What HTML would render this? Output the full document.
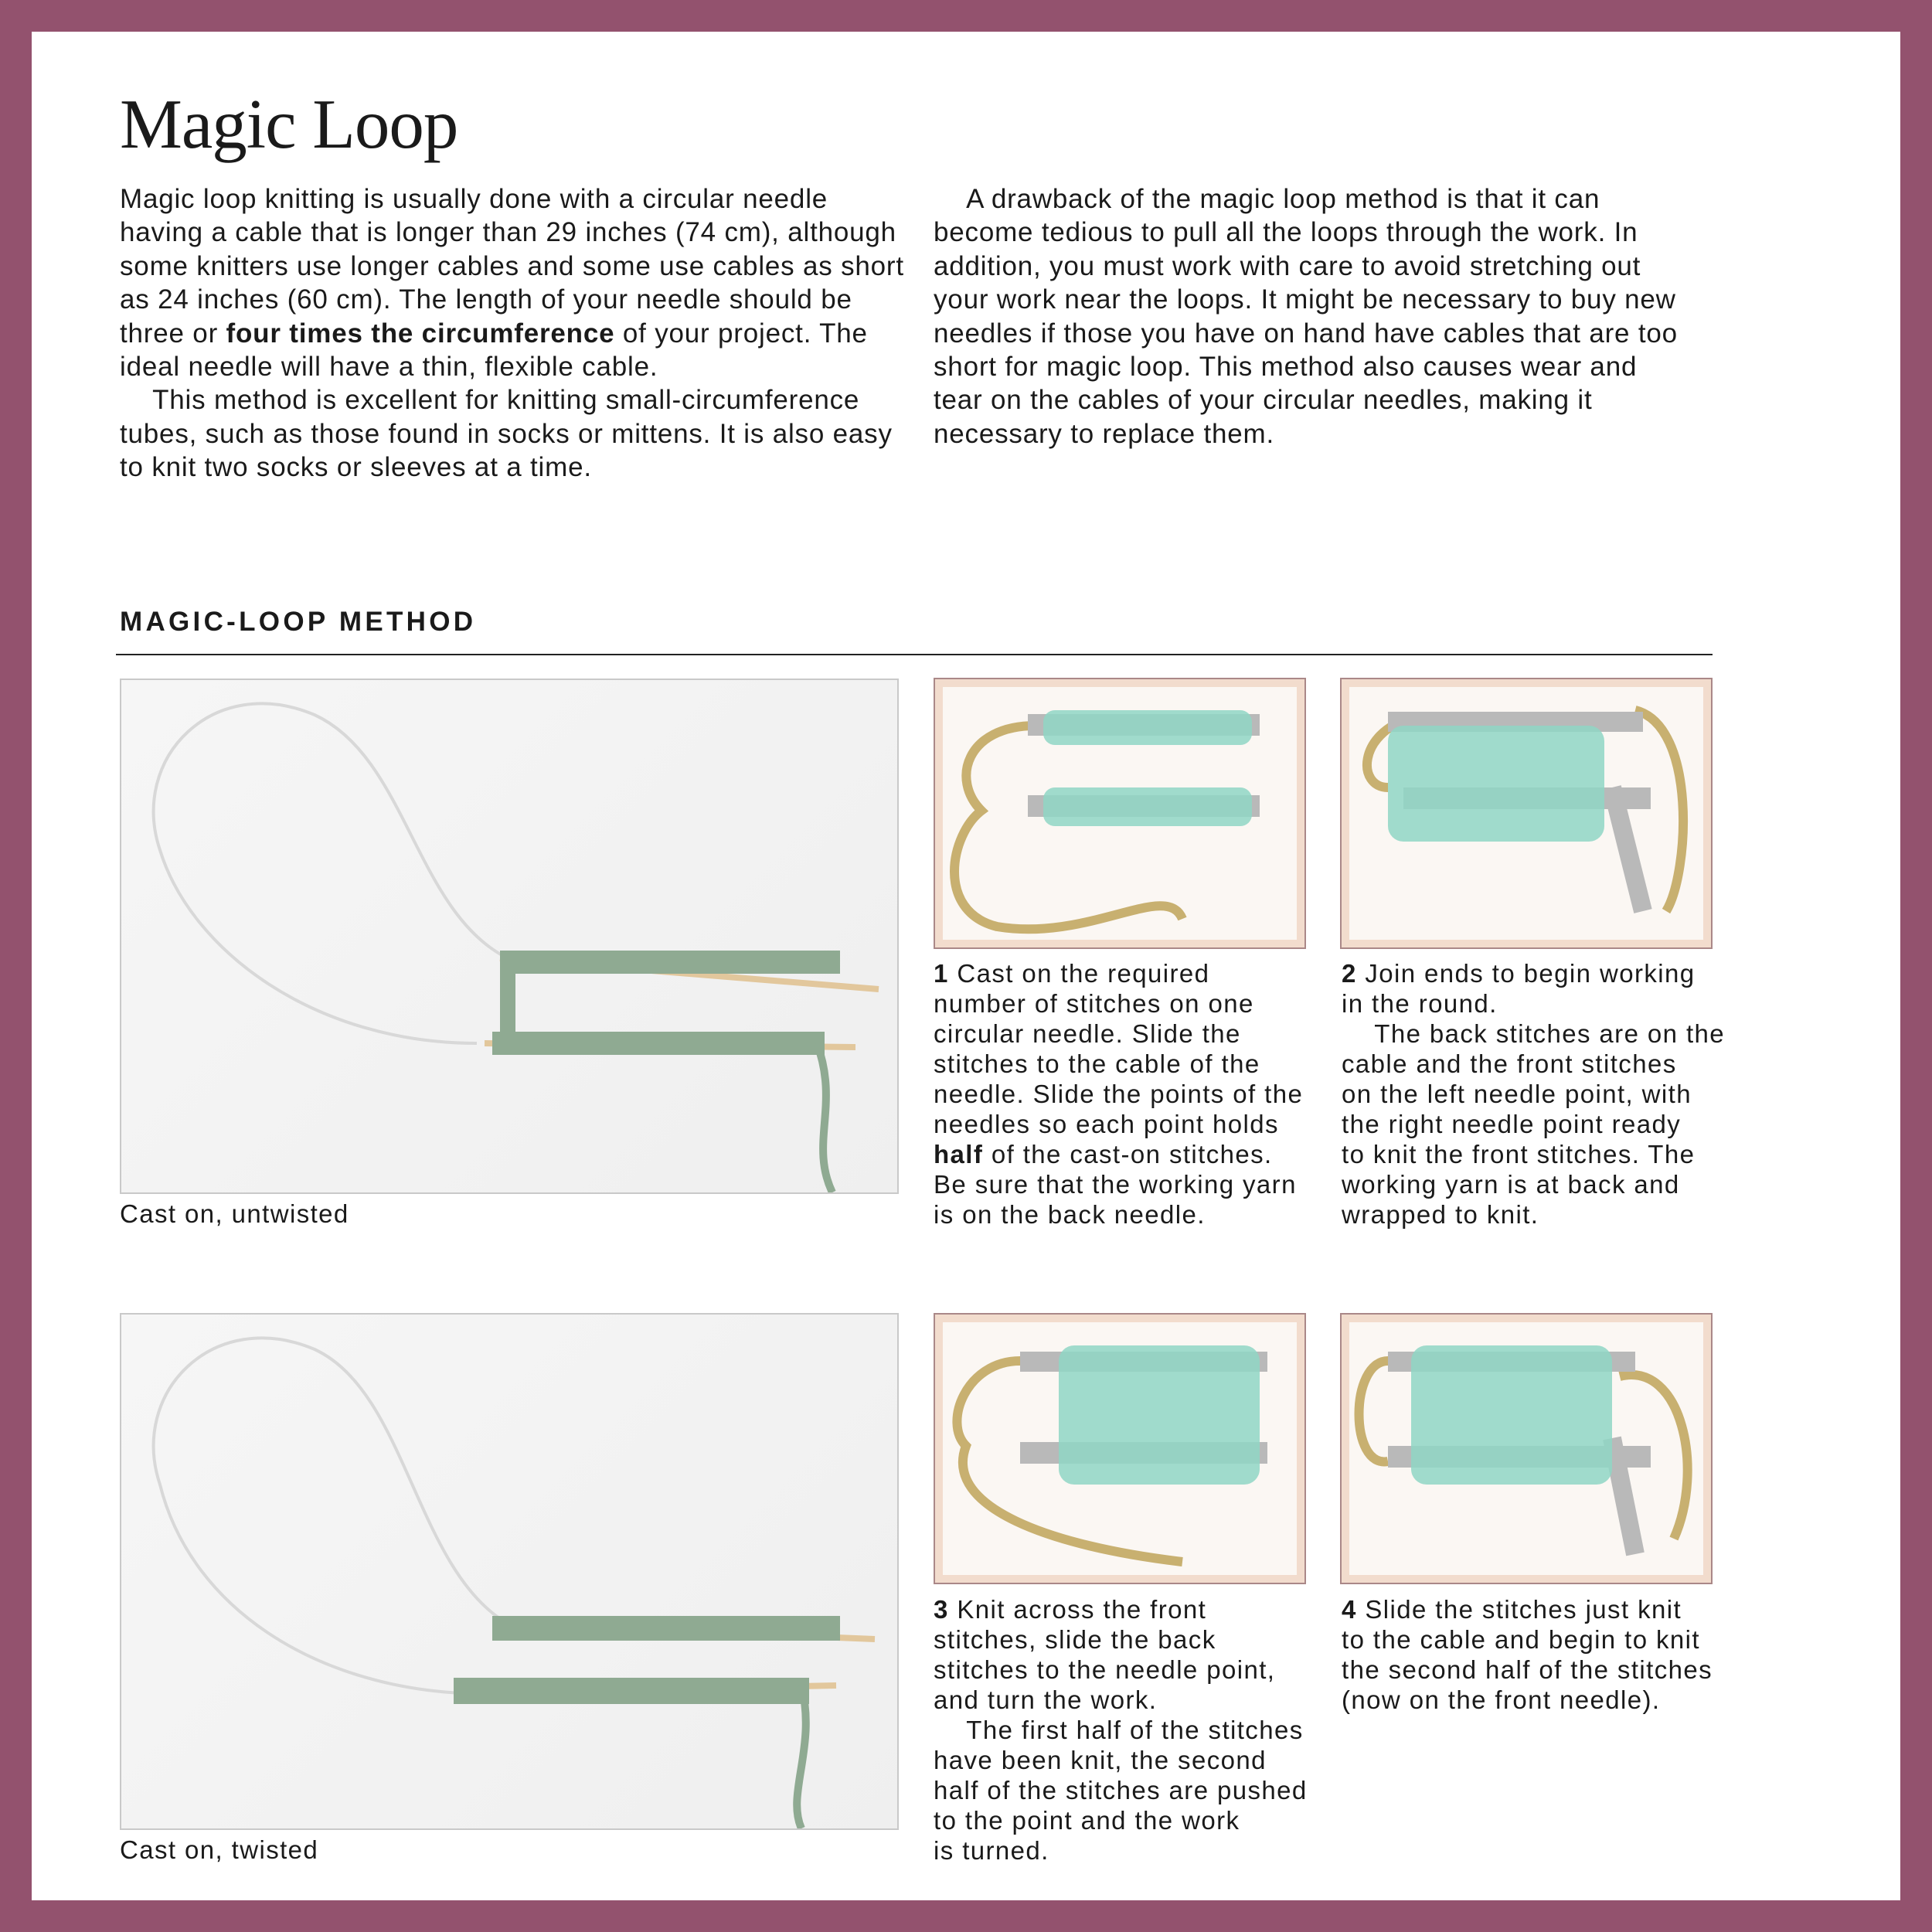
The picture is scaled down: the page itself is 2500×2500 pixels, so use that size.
<!DOCTYPE html>
<html><head><meta charset="utf-8">
<style>
html,body{margin:0;padding:0}
body{width:2500px;height:2500px;background:#93526e;position:relative;overflow:hidden;font-family:"Liberation Sans",sans-serif;color:#1a1a1a}
.page{position:absolute;left:41px;top:41px;width:2418px;height:2418px;background:#fff}
.a{position:absolute}
.body{font-size:35px;line-height:43.4px;white-space:nowrap;letter-spacing:0.8px}
.step{font-size:33px;line-height:39px;white-space:nowrap;letter-spacing:1.4px}
.cap{font-size:33px;white-space:nowrap;letter-spacing:1.4px}
h1{position:absolute;left:155px;top:108px;margin:0;font-family:"Liberation Serif",serif;font-weight:normal;font-size:91px;letter-spacing:-1px}
.photo{position:absolute;border:2px solid #c9c9c9;background:linear-gradient(135deg,#f6f6f6,#efefef)}
.ill{position:absolute;border:2px solid #a88;background:#f2dccd}
.ill .in{position:absolute;left:10px;top:10px;right:10px;bottom:10px;background:#fbf7f3}
</style></head><body>
<div class="page"></div>
<h1>Magic Loop</h1>
<div class="a body" style="left:155px;top:236px">Magic loop knitting is usually done with a circular needle<br>having a cable that is longer than 29 inches (74 cm), although<br>some knitters use longer cables and some use cables as short<br>as 24 inches (60 cm). The length of your needle should be<br>three or <b>four times the circumference</b> of your project. The<br>ideal needle will have a thin, flexible cable.<br>&nbsp;&nbsp;&nbsp;&nbsp;This method is excellent for knitting small-circumference<br>tubes, such as those found in socks or mittens. It is also easy<br>to knit two socks or sleeves at a time.</div>
<div class="a body" style="left:1208px;top:236px">&nbsp;&nbsp;&nbsp;&nbsp;A drawback of the magic loop method is that it can<br>become tedious to pull all the loops through the work. In<br>addition, you must work with care to avoid stretching out<br>your work near the loops. It might be necessary to buy new<br>needles if those you have on hand have cables that are too<br>short for magic loop. This method also causes wear and<br>tear on the cables of your circular needles, making it<br>necessary to replace them.</div>
<div class="a" style="left:155px;top:785px;font-size:35px;font-weight:bold;letter-spacing:4.3px">MAGIC-LOOP METHOD</div>
<div class="a" style="left:150px;top:846px;width:2066px;height:2px;background:#222"></div>

<div class="photo" style="left:155px;top:878px;width:1004px;height:663px">
<svg width="1004" height="663"><path d="M500 360 C380 300 370 100 250 45 C120 -10 10 100 50 220 C90 350 250 470 460 470" fill="none" stroke="#d8d8d8" stroke-width="4"/>
<line x1="490" y1="360" x2="980" y2="400" stroke="#e2c79c" stroke-width="8"/><line x1="470" y1="470" x2="950" y2="475" stroke="#e2c79c" stroke-width="8"/>
<rect x="490" y="350" width="440" height="30" fill="#8faa92"/><rect x="480" y="455" width="430" height="30" fill="#8faa92"/>
<rect x="490" y="350" width="20" height="130" fill="#8faa92"/><path d="M900 470 C930 550 890 600 920 663" stroke="#8faa92" stroke-width="10" fill="none"/></svg></div>
<div class="a cap" style="left:155px;top:1552px">Cast on, untwisted</div>

<div class="photo" style="left:155px;top:1699px;width:1004px;height:665px">
<svg width="1004" height="665"><path d="M500 400 C380 330 370 100 250 45 C120 -10 10 100 50 220 C90 380 250 480 440 490" fill="none" stroke="#d8d8d8" stroke-width="4"/>
<line x1="490" y1="400" x2="975" y2="420" stroke="#e2c79c" stroke-width="8"/><line x1="440" y1="490" x2="925" y2="480" stroke="#e2c79c" stroke-width="8"/>
<rect x="480" y="390" width="450" height="32" fill="#8faa92"/><rect x="430" y="470" width="460" height="34" fill="#8faa92"/>
<path d="M880 480 C900 560 860 620 880 665" stroke="#8faa92" stroke-width="10" fill="none"/></svg></div>
<div class="a cap" style="left:155px;top:2375px">Cast on, twisted</div>

<div class="ill" style="left:1208px;top:877px;width:478px;height:347px"><div class="in"></div>
<svg class="a" style="left:0;top:0" width="478" height="347"><path d="M130 60 C40 60 20 130 60 170 C20 200 0 300 80 320 C200 340 300 260 320 310" stroke="#c8b070" stroke-width="12" fill="none"/>
<rect x="120" y="45" width="300" height="28" fill="#b9b9b9"/><rect x="120" y="150" width="300" height="28" fill="#b9b9b9"/>
<rect x="140" y="40" width="270" height="45" rx="15" fill="#8fd6c4" opacity=".85"/><rect x="140" y="140" width="270" height="50" rx="15" fill="#8fd6c4" opacity=".85"/></svg></div>
<div class="ill" style="left:1734px;top:877px;width:478px;height:347px"><div class="in"></div>
<svg class="a" style="left:0;top:0" width="478" height="347"><path d="M90 50 C20 70 20 140 60 140 M380 40 C460 60 450 250 420 300" stroke="#c8b070" stroke-width="12" fill="none"/>
<rect x="60" y="42" width="330" height="26" fill="#b9b9b9"/><rect x="80" y="140" width="320" height="28" fill="#b9b9b9"/><line x1="350" y1="140" x2="390" y2="300" stroke="#b9b9b9" stroke-width="24"/>
<rect x="60" y="60" width="280" height="150" rx="20" fill="#8fd6c4" opacity=".85"/></svg></div>
<div class="ill" style="left:1208px;top:1699px;width:478px;height:347px"><div class="in"></div>
<svg class="a" style="left:0;top:0" width="478" height="347"><path d="M110 60 C40 60 10 140 40 170 C10 250 150 300 320 320" stroke="#c8b070" stroke-width="12" fill="none"/>
<rect x="110" y="48" width="320" height="26" fill="#b9b9b9"/><rect x="110" y="165" width="320" height="28" fill="#b9b9b9"/>
<rect x="160" y="40" width="260" height="180" rx="20" fill="#8fd6c4" opacity=".85"/></svg></div>
<div class="ill" style="left:1734px;top:1699px;width:478px;height:347px"><div class="in"></div>
<svg class="a" style="left:0;top:0" width="478" height="347"><path d="M60 60 C10 60 10 200 60 190 M360 80 C440 60 470 200 430 290" stroke="#c8b070" stroke-width="12" fill="none"/>
<rect x="60" y="48" width="320" height="26" fill="#b9b9b9"/><rect x="60" y="170" width="340" height="28" fill="#b9b9b9"/><line x1="350" y1="160" x2="380" y2="310" stroke="#b9b9b9" stroke-width="24"/>
<rect x="90" y="40" width="260" height="180" rx="20" fill="#8fd6c4" opacity=".85"/></svg></div>

<div class="a step" style="left:1208px;top:1240px"><b>1</b> Cast on the required<br>number of stitches on one<br>circular needle. Slide the<br>stitches to the cable of the<br>needle. Slide the points of the<br>needles so each point holds<br><b>half</b> of the cast-on stitches.<br>Be sure that the working yarn<br>is on the back needle.</div>
<div class="a step" style="left:1736px;top:1240px"><b>2</b> Join ends to begin working<br>in the round.<br>&nbsp;&nbsp;&nbsp;&nbsp;The back stitches are on the<br>cable and the front stitches<br>on the left needle point, with<br>the right needle point ready<br>to knit the front stitches. The<br>working yarn is at back and<br>wrapped to knit.</div>
<div class="a step" style="left:1208px;top:2063px"><b>3</b> Knit across the front<br>stitches, slide the back<br>stitches to the needle point,<br>and turn the work.<br>&nbsp;&nbsp;&nbsp;&nbsp;The first half of the stitches<br>have been knit, the second<br>half of the stitches are pushed<br>to the point and the work<br>is turned.</div>
<div class="a step" style="left:1736px;top:2063px"><b>4</b> Slide the stitches just knit<br>to the cable and begin to knit<br>the second half of the stitches<br>(now on the front needle).</div>
</body></html>
